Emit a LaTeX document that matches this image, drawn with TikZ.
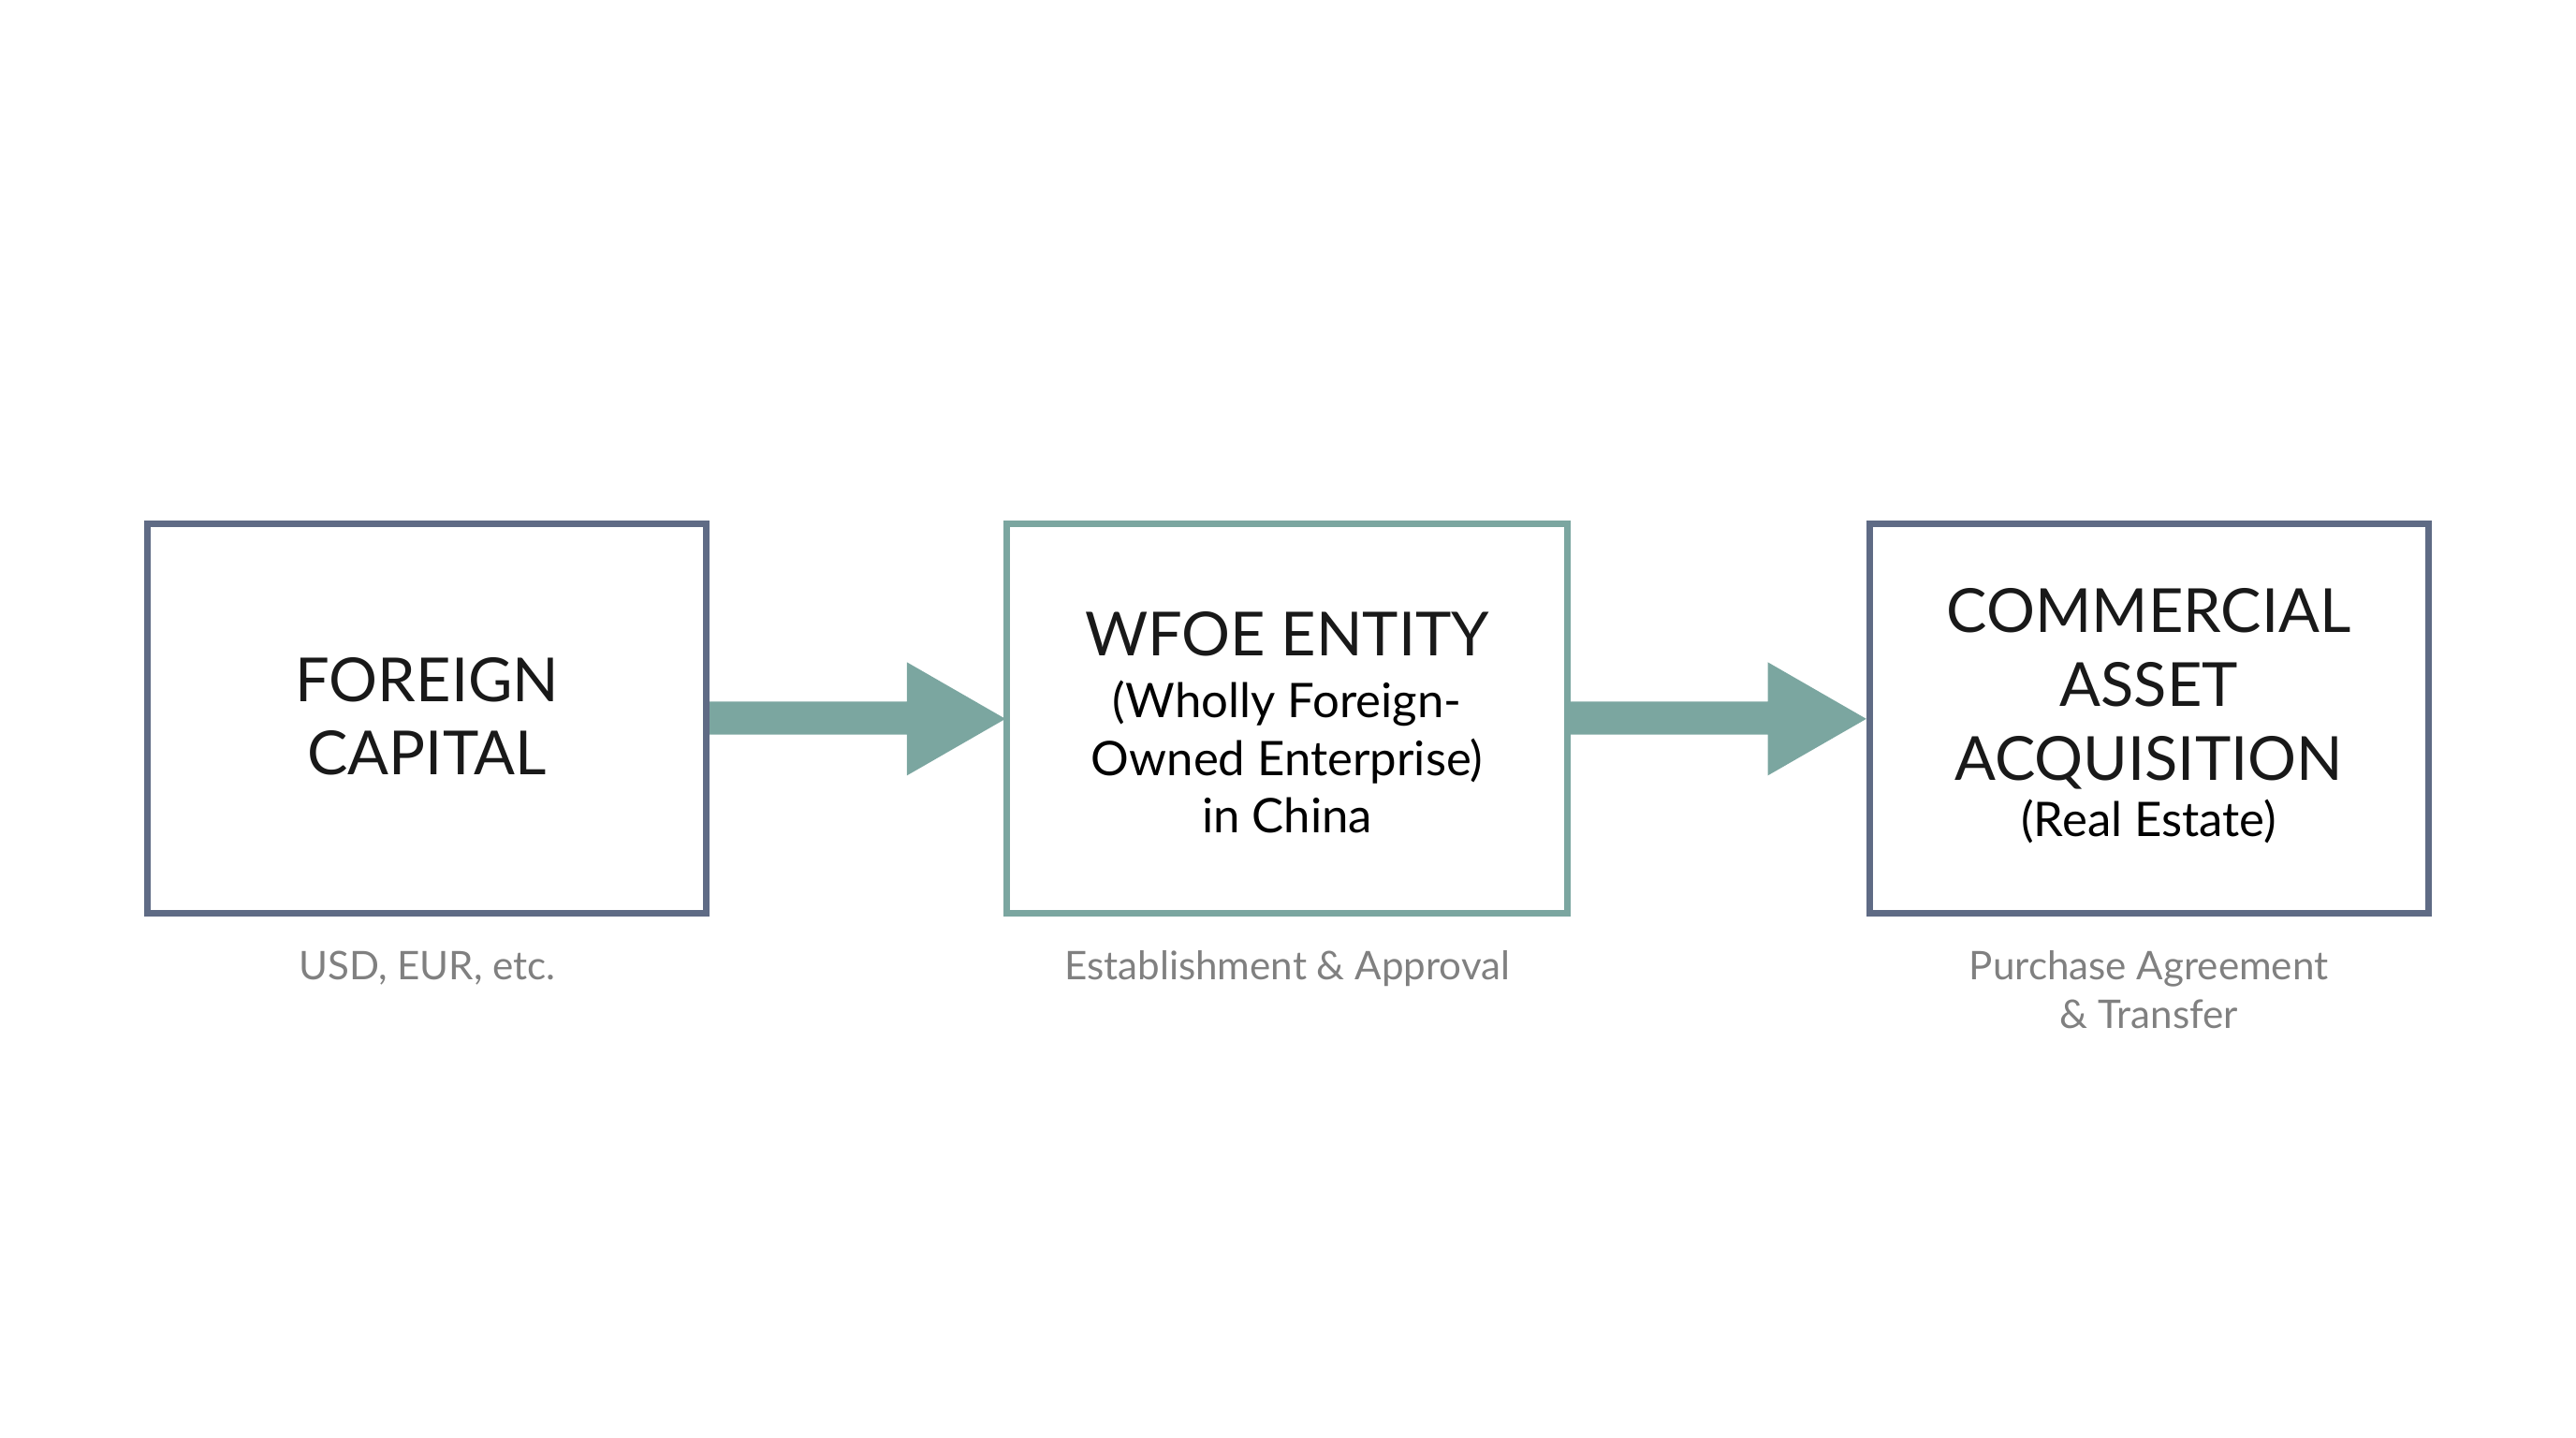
\documentclass[tikz,border=0pt]{standalone}
\usepackage{fontspec}
\setmainfont{Lato}
\begin{document}
\begin{tikzpicture}[x=1pt,y=-1pt,
  box/.style={draw=#1,line width=4pt,fill=white},
  big/.style={font=\fontsize{37}{45}\selectfont,text=black!90,align=center},
  capt/.style={font=\fontsize{24}{30}\selectfont,text=black!50,align=center},
  arr/.style={fill=tealc,draw=none}]
\definecolor{slate}{HTML}{5F6B85}
\definecolor{tealc}{HTML}{7BA6A0}
\useasboundingbox (0,0) rectangle (1568,875);
\draw[box=slate] (90,319) rectangle (430,556);
\draw[box=tealc] (613,319) rectangle (954,556);
\draw[box=slate] (1138,319) rectangle (1478,556);
\node[big] (a) at (260,436) {FOREIGN\\CAPITAL};
\node[big,anchor=base] (b1) at (783.5,399) {WFOE ENTITY};
\node[anchor=base,align=center,font=\fontsize{29}{35}\selectfont] (b2) at (783.5,507) {(Wholly Foreign-\\Owned Enterprise)\\in China};
\node[big,anchor=base] (c1) at (1308,475) {COMMERCIAL\\ASSET\\ACQUISITION};
\node[anchor=base,font=\fontsize{29}{35}\selectfont] (c2) at (1308,509) {(Real Estate)};
\node[capt,anchor=base] (ca) at (260,596) {USD, EUR, etc.};
\node[capt,anchor=base] (cb) at (783.5,596) {Establishment \& Approval};
\node[capt,anchor=base] (cc) at (1308,626) {Purchase Agreement\\\& Transfer};
\fill[arr] (432,427) -- (552,427) -- (552,403) -- (612,437.5) -- (552,472) -- (552,447) -- (432,447) -- cycle;
\fill[arr] (956,427) -- (1076,427) -- (1076,403) -- (1136,437.5) -- (1076,472) -- (1076,447) -- (956,447) -- cycle;
\end{tikzpicture}
\end{document}
